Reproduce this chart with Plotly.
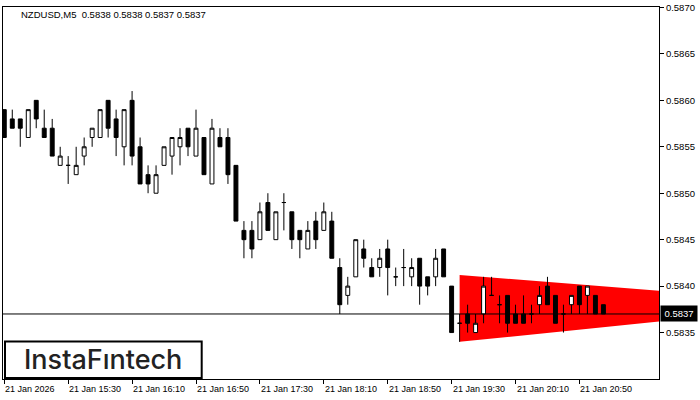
import plotly.graph_objects as go

# ---------------- data ----------------
bar_index = list(range(76))

open_ = [
    0.5859, 0.5858, 0.5858, 0.5856, 0.5860, 0.5857, 0.5857, 0.5853, 0.5853, 0.5852,
    0.5854, 0.5856, 0.5856, 0.5860, 0.5858, 0.5855, 0.5860, 0.5855, 0.5852, 0.5850,
    0.5853, 0.5854, 0.5855, 0.5857, 0.5854, 0.5856, 0.5851, 0.5856, 0.5856, 0.5853,
    0.5846, 0.5846, 0.5845, 0.5849, 0.5845, 0.5849, 0.5848, 0.5846, 0.5844, 0.5847,
    0.5846, 0.5847, 0.5842, 0.5839, 0.5841, 0.5844, 0.5842, 0.5842, 0.5844, 0.5841,
    0.5842, 0.5841, 0.5843, 0.5841, 0.5841, 0.5844, 0.5840, 0.5836, 0.5837, 0.5835,
    0.5837, 0.5839, 0.5838, 0.5839, 0.5837, 0.5837, 0.5837, 0.5838, 0.5840, 0.5839,
    0.5837, 0.5838, 0.5840, 0.5839, 0.5839, 0.5838]

high = [
    0.5859, 0.5859, 0.5858, 0.5859, 0.5860, 0.5859, 0.5858, 0.5855, 0.5854, 0.5855,
    0.5856, 0.5857, 0.5859, 0.5860, 0.5859, 0.5859, 0.5861, 0.5856, 0.5853, 0.5853,
    0.5855, 0.5856, 0.5857, 0.5857, 0.5859, 0.5856, 0.5858, 0.5857, 0.5857, 0.5853,
    0.5847, 0.5847, 0.5849, 0.5850, 0.5848, 0.5850, 0.5848, 0.5846, 0.5847, 0.5848,
    0.5849, 0.5848, 0.5843, 0.5841, 0.5845, 0.5845, 0.5843, 0.5844, 0.5845, 0.5842,
    0.5844, 0.5843, 0.5843, 0.5841, 0.5844, 0.5844, 0.5840, 0.5837, 0.5838, 0.5837,
    0.5841, 0.5841, 0.5839, 0.5839, 0.5838, 0.5839, 0.5838, 0.5840, 0.5841, 0.5839,
    0.5838, 0.5839, 0.5840, 0.5840, 0.5839, 0.5838]

low = [
    0.5856, 0.5857, 0.5855, 0.5856, 0.5857, 0.5856, 0.5854, 0.5853, 0.5851, 0.5852,
    0.5853, 0.5855, 0.5856, 0.5856, 0.5854, 0.5853, 0.5853, 0.5851, 0.5850, 0.5850,
    0.5853, 0.5852, 0.5853, 0.5854, 0.5854, 0.5852, 0.5851, 0.5855, 0.5851, 0.5847,
    0.5843, 0.5843, 0.5845, 0.5846, 0.5845, 0.5846, 0.5844, 0.5843, 0.5844, 0.5844,
    0.5846, 0.5843, 0.5837, 0.5838, 0.5841, 0.5842, 0.5841, 0.5841, 0.5839, 0.5840,
    0.5840, 0.5840, 0.5838, 0.5839, 0.5840, 0.5841, 0.5835, 0.5834, 0.5835, 0.5835,
    0.5836, 0.5839, 0.5836, 0.5835, 0.5836, 0.5836, 0.5836, 0.5837, 0.5838, 0.5836,
    0.5835, 0.5837, 0.5837, 0.5837, 0.5837, 0.5837]

close = [
    0.5856, 0.5857, 0.5857, 0.5859, 0.5858, 0.5856, 0.5854, 0.5854, 0.5853, 0.5853,
    0.5855, 0.5857, 0.5859, 0.5857, 0.5856, 0.5859, 0.5854, 0.5851, 0.5851, 0.5852,
    0.5855, 0.5856, 0.5856, 0.5855, 0.5857, 0.5852, 0.5857, 0.5855, 0.5852, 0.5847,
    0.5845, 0.5844, 0.5848, 0.5846, 0.5848, 0.5849, 0.5845, 0.5845, 0.5846, 0.5845,
    0.5848, 0.5843, 0.5838, 0.5840, 0.5845, 0.5843, 0.5841, 0.5843, 0.5842, 0.5841,
    0.5842, 0.5842, 0.5840, 0.5840, 0.5843, 0.5841, 0.5835, 0.5836, 0.5836, 0.5836,
    0.5840, 0.5839, 0.5838, 0.5836, 0.5836, 0.5836, 0.5837, 0.5839, 0.5838, 0.5836,
    0.5837, 0.5839, 0.5838, 0.5840, 0.5837, 0.5837]

tick_index = [0, 8, 16, 24, 32, 40, 48, 56, 64, 72]
tick_labels = ["21 Jan 2026", "21 Jan 15:30", "21 Jan 16:10", "21 Jan 16:50",
               "21 Jan 17:30", "21 Jan 18:10", "21 Jan 18:50", "21 Jan 19:30",
               "21 Jan 20:10", "21 Jan 20:50"]

price_ticks = [0.5835, 0.5840, 0.5845, 0.5850, 0.5855, 0.5860, 0.5865, 0.5870]
last_price = 0.5837
last_price_label = "0.5837"

# symmetrical triangle pattern (bar index, upper line, lower line)
pattern_x = [57, 82]
pattern_top = [0.58412, 0.58395]
pattern_bottom = [0.58340, 0.58362]

title_text = "NZDUSD,M5\u00a0 0.5838 0.5838 0.5837 0.5837"
logo_text = "InstaF\u0131ntech"

# ---------------- figure ----------------
FONT = "Liberation Sans, Arial, sans-serif"
fig = go.Figure()

fig.add_trace(go.Candlestick(
    x=bar_index, open=open_, high=high, low=low, close=close,
    increasing=dict(line=dict(color="black", width=1), fillcolor="white"),
    decreasing=dict(line=dict(color="black", width=1), fillcolor="black"),
    whiskerwidth=0, showlegend=False))

# pattern fill (below the candles)
tri_path = "M {},{} L {},{} L {},{} L {},{} Z".format(
    pattern_x[0], pattern_top[0], pattern_x[1], pattern_top[1],
    pattern_x[1], pattern_bottom[1], pattern_x[0], pattern_bottom[0])
fig.add_shape(type="path", path=tri_path, xref="x", yref="y",
              fillcolor="#FF0000", line=dict(width=0), layer="below")

fig.add_shape(type="line", xref="paper", x0=0, x1=1, yref="y",
              y0=last_price, y1=last_price,
              line=dict(color="black", width=1), layer="above")

annotations = []
for idx, lab in zip(tick_index, tick_labels):
    annotations.append(dict(
        x=idx, xref="x", y=0, yref="paper", text=lab, showarrow=False,
        xanchor="left", yanchor="middle", yshift=-9.5, xshift=-1,
        font=dict(family=FONT, size=9, color="black")))

annotations.append(dict(
    x=16 / 657, xref="paper", y=1, yref="paper", text=title_text,
    showarrow=False, xanchor="left", yanchor="middle", yshift=-7.5,
    font=dict(family=FONT, size=9.5, color="#000000")))

annotations.append(dict(
    x=1, xref="paper", y=last_price, yref="y", text=last_price_label,
    showarrow=False, xanchor="left", yanchor="middle", xshift=1,
    bgcolor="black", width=34, height=13, borderpad=1,
    font=dict(family=FONT, size=9.5, color="white")))

annotations.append(dict(
    x=100 / 657, xref="paper", y=20 / 376, yref="paper", text=logo_text,
    showarrow=False, xanchor="center", yanchor="middle",
    font=dict(family="Inter, Lato, sans-serif", size=27, color="#222222",
              weight=500)))

fig.add_shape(type="rect", xref="paper", yref="paper",
              x0=2 / 657, x1=199 / 657, y0=1 / 376, y1=38 / 376,
              line=dict(color="black", width=2), fillcolor="white",
              layer="above")

fig.update_layout(
    width=700, height=400,
    margin=dict(l=2, r=41, t=3, b=21),
    paper_bgcolor="white", plot_bgcolor="white",
    showlegend=False,
    font=dict(family=FONT, size=9.5, color="black"),
    annotations=annotations,
    xaxis=dict(range=[-0.16, 81.96], showgrid=False, zeroline=False,
               showline=True, mirror=True, linecolor="black", linewidth=1,
               tickvals=tick_index, ticks="outside", ticklen=4,
               tickcolor="black", showticklabels=False,
               rangeslider=dict(visible=False), fixedrange=True),
    yaxis=dict(side="right", range=[0.5830, 0.587005], showgrid=False,
               zeroline=False, showline=True, mirror=True,
               linecolor="black", linewidth=1, tickvals=price_ticks,
               tickformat=".4f", ticks="outside", ticklen=4,
               tickcolor="black", fixedrange=True,
               ticklabeloverflow="allow",
               tickfont=dict(family=FONT, size=9.5, color="black")),
)

fig.write_html(
    "out.html",
    config={"displayModeBar": False},
    post_script="document.body.style.margin='0';document.body.style.padding='0';",
)
